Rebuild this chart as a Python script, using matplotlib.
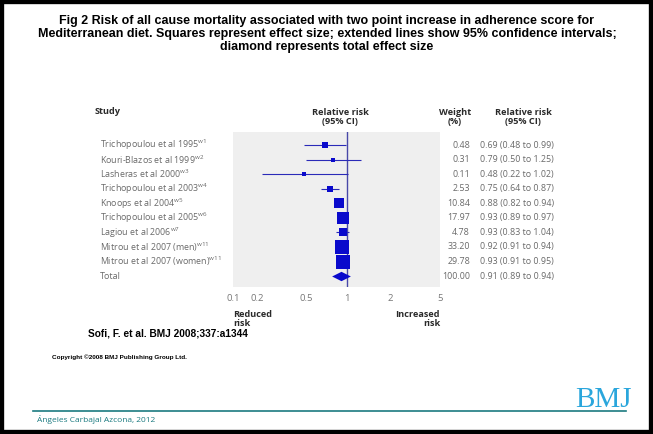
import numpy as np
import matplotlib
matplotlib.use('Agg')
import matplotlib.pyplot as plt
from matplotlib.transforms import blended_transform_factory
from matplotlib.patches import Rectangle
from matplotlib.lines import Line2D

# forest plot data (Sofi et al. BMJ 2008, fig 2)
studies = ['Trichopoulou et al 1995', 'Kouri-Blazos et al 1999', 'Lasheras et al 2000',
           'Trichopoulou et al 2003', 'Knoops et al 2004', 'Trichopoulou et al 2005',
           'Lagiou et al 2006', 'Mitrou et al 2007 (men)', 'Mitrou et al 2007 (women)']
refs = ['w1', 'w2', 'w3', 'w4', 'w5', 'w6', 'w7', 'w11', 'w11']
rr = [0.69, 0.79, 0.48, 0.75, 0.88, 0.93, 0.93, 0.92, 0.93]
ci_low = [0.48, 0.50, 0.22, 0.64, 0.82, 0.89, 0.83, 0.91, 0.91]
ci_high = [0.99, 1.25, 1.02, 0.87, 0.94, 0.97, 1.04, 0.94, 0.95]
weights = [0.48, 0.31, 0.11, 2.53, 10.84, 17.97, 4.78, 33.20, 29.78]
total_rr, total_low, total_high, total_weight = 0.91, 0.89, 0.94, 100.00

tick_vals = [0.1, 0.2, 0.5, 1, 2, 5]
tick_labels = ['0.1', '0.2', '0.5', '1', '2', '5']
# where the original drew its (uneven) tick labels, in pixels
tick_px = [233, 257, 306, 347, 390, 440]

title_lines = ['Fig 2 Risk of all cause mortality associated with two point increase in adherence score for',
               'Mediterranean diet. Squares represent effect size; extended lines show 95% confidence intervals;',
               'diamond represents total effect size']

W, H = 653, 434
fig = plt.figure(figsize=(W / 100, H / 100), dpi=100)

def fx(x):
    return x / W

def fy(y):
    return 1 - y / H

plt.rcParams['mathtext.fontset'] = 'custom'
plt.rcParams['mathtext.rm'] = 'Open Sans'
body = 'Open Sans'
grey = '#6a6a6a'
fs = 6.4

# slide frame
fig.patches.append(Rectangle((0, 0), 1, 1, transform=fig.transFigure, fill=False,
                             edgecolor='black', linewidth=6))

# title, one line at a time
for i, line in enumerate(title_lines):
    fig.text(fx(327), fy(21 + 13 * i), line, ha='center', va='center', fontsize=9,
             fontweight='bold', family='Liberation Sans')

# the forest panel, with an uneven log-like scale like the original
ax = fig.add_axes([fx(233), fy(287), fx(440) - fx(233), (287 - 132) / H])
log_ticks = np.log10(tick_vals)

def fwd(v):
    return np.interp(np.log10(np.clip(v, 1e-6, None)), log_ticks, tick_px)

def inv(p):
    return 10 ** np.interp(p, tick_px, log_ticks)

ax.set_xscale('function', functions=(fwd, inv))
ax.set_xlim(0.1, 5)
ax.set_ylim(9.75, -0.9)
ax.set_facecolor('#efefef')
for s in ax.spines.values():
    s.set_visible(False)
ax.set_xticks(tick_vals)
ax.set_xticklabels(tick_labels)
ax.tick_params(axis='x', length=0, pad=5, labelsize=6.8, labelcolor='#777777')
ax.set_yticks([])
for lab in ax.get_xticklabels():
    lab.set_family(body)

ax.axvline(1, color='#4848a8', linewidth=1)

rows = np.arange(len(studies))
sizes = [0.72 * (4 + 1.75 * np.sqrt(w)) for w in weights]
ax.hlines(rows, ci_low, ci_high, color='#2a2ab8', linewidth=0.8)
for r, v, s in zip(rows, rr, sizes):
    ax.plot(v, r, marker='s', markersize=s, color='#0a0acc', markeredgewidth=0)
diamond = [(-1, 0), (0, 0.5), (1, 0), (0, -0.5), (-1, 0)]
ax.plot(total_rr, len(studies), marker=diamond, markersize=13.5, color='#0a0acc',
        markeredgewidth=0)

# text columns
tr = blended_transform_factory(fig.transFigure, ax.transData)
labels = [f'{s}$^{{\\rm {r}}}$' for s, r in zip(studies, refs)] + ['Total']
weight_txt = [f'{w:.2f}' for w in weights] + [f'{total_weight:.2f}']
rr_txt = [f'{v:.2f} ({lo:.2f} to {hi:.2f})' for v, lo, hi in zip(rr, ci_low, ci_high)]
rr_txt.append(f'{total_rr:.2f} ({total_low:.2f} to {total_high:.2f})')
for i in range(len(labels)):
    ax.text(fx(100), i, labels[i], transform=tr, ha='left', va='center', fontsize=fs,
            color=grey, family=body, clip_on=False)
    ax.text(fx(470), i, weight_txt[i], transform=tr, ha='right', va='center', fontsize=fs,
            color=grey, family=body, clip_on=False)
    ax.text(fx(480), i, rr_txt[i], transform=tr, ha='left', va='center', fontsize=fs,
            color=grey, family=body, clip_on=False)

hdr = dict(fontsize=6.6, fontweight='bold', color='#2a2a2a', family=body, va='center')
fig.text(fx(95), fy(112), 'Study', ha='left', **hdr)
fig.text(fx(340), fy(117), 'Relative risk\n(95% CI)', ha='center', linespacing=1.1, **hdr)
fig.text(fx(455), fy(117), 'Weight\n(%)', ha='center', linespacing=1.1, **hdr)
fig.text(fx(523), fy(117), 'Relative risk\n(95% CI)', ha='center', linespacing=1.1, **hdr)
fig.text(fx(233), fy(319), 'Reduced\nrisk', ha='left', linespacing=1.1, **hdr)
fig.text(fx(440), fy(319), 'Increased\nrisk', ha='right', linespacing=1.1, **hdr)

# source lines
fig.text(fx(88), fy(334), 'Sofi, F. et al. BMJ 2008;337:a1344', ha='left', va='center',
         fontsize=7.3, fontweight='bold', family='Liberation Sans')
fig.text(fx(52), fy(357), 'Copyright \u00a92008 BMJ Publishing Group Ltd.', ha='left', va='center',
         fontsize=4.6, fontweight='bold', family='Liberation Sans')

# footer
fig.add_artist(Line2D([fx(33), fx(626)], [fy(411), fy(411)], color='#1b7a80', linewidth=1.2))
fig.text(fx(37), fy(419), '\u00c1ngeles Carbajal Azcona, 2012', ha='left', va='center',
         fontsize=6, color='#1b7a80', family=body)
fig.text(fx(603), fy(407), 'BMJ', ha='center', va='baseline', fontsize=21,
         color='#2aa6dc', family='Liberation Serif')

fig.savefig('out.png', dpi=100)
